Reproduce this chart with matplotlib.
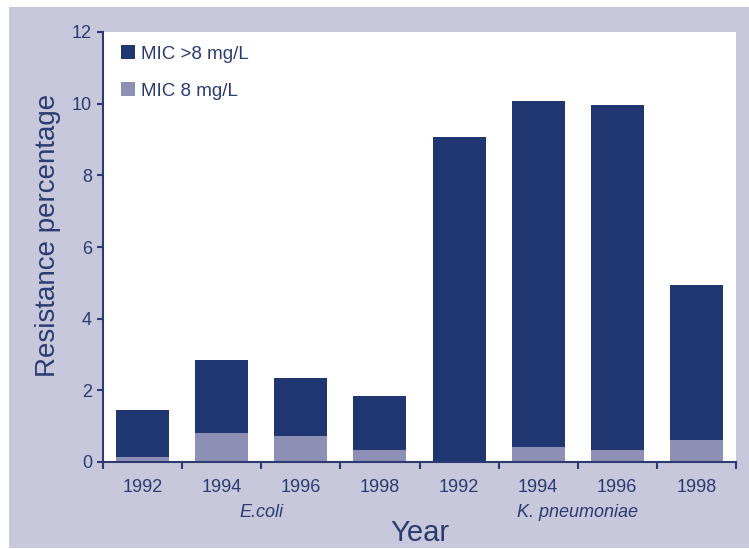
import numpy as np
import matplotlib.pyplot as plt
from matplotlib.patches import Rectangle

plt.rcParams['font.family'] = ['Liberation Sans', 'DejaVu Sans']

# dados
anos = ['1992', '1994', '1996', '1998', '1992', '1994', '1996', '1998']
organismos = ['E.coli', 'K. pneumoniae']
mic_8 = [0.14, 0.81, 0.73, 0.34, 0.0, 0.42, 0.34, 0.61]
mic_total = [1.45, 2.85, 2.35, 1.84, 9.07, 10.07, 9.97, 4.94]
mic_maior8 = [t - b for t, b in zip(mic_total, mic_8)]

azul = '#1f3670'
lilas = '#8e8fb5'
fundo = '#c8c8dc'
texto = '#2b3b6f'

fig = plt.figure(figsize=(7.49, 5.49), dpi=100)
fig.patch.set_facecolor('white')
fig.patches.append(Rectangle((9 / 749, 0.002), 1, (548 - 7) / 549,
                             transform=fig.transFigure, facecolor=fundo,
                             edgecolor='none', zorder=-10))

ax = fig.add_axes([103 / 749, 87 / 549, (736 - 103) / 749, (462 - 32) / 549])
ax.set_facecolor('white')

x = np.arange(len(anos))
ax.bar(x, mic_8, width=0.67, color=lilas, label='MIC 8 mg/L', zorder=2)
ax.bar(x, mic_maior8, width=0.67, bottom=mic_8, color=azul,
       label='MIC >8 mg/L', zorder=2)

ax.set_xlim(-0.5, 7.5)
ax.set_ylim(0, 12)
ax.set_yticks(range(0, 13, 2))
ax.set_xticks(x)
ax.set_xticklabels(anos)
ax.set_xticks(np.arange(-0.5, 8, 1), minor=True)
ax.tick_params(axis='x', which='major', length=0, pad=12, labelsize=13,
               colors=texto)
ax.tick_params(axis='x', which='minor', length=5, width=1.5, color=texto,
               direction='out')
ax.tick_params(axis='y', length=4, width=1.5, color=texto, labelsize=13,
               labelcolor=texto, pad=4)

for lado in ['top', 'right']:
    ax.spines[lado].set_visible(False)
for lado in ['left', 'bottom']:
    ax.spines[lado].set_color(texto)
    ax.spines[lado].set_linewidth(1.5)

ax.set_ylabel('Resistance percentage', fontsize=20, color=texto)
ax.yaxis.set_label_coords(-0.066, 0.526)
ax.set_xlabel('Year', fontsize=21, color=texto, labelpad=17)

ax.text(1.5, -1.42, organismos[0], ha='center', va='center', fontsize=13,
        style='italic', color=texto)
ax.text(5.5, -1.42, organismos[1], ha='center', va='center', fontsize=13,
        style='italic', color=texto)

handles, labels = ax.get_legend_handles_labels()
leg = ax.legend(handles[::-1], labels[::-1], loc='upper left', frameon=False,
                fontsize=13.5, labelcolor=texto, handlelength=0.75,
                handleheight=0.75, handletextpad=0.3, labelspacing=1.05,
                borderaxespad=0.3, bbox_to_anchor=(0.008, 1.0))

fig.savefig('out.png', dpi=100, facecolor=fig.get_facecolor())
